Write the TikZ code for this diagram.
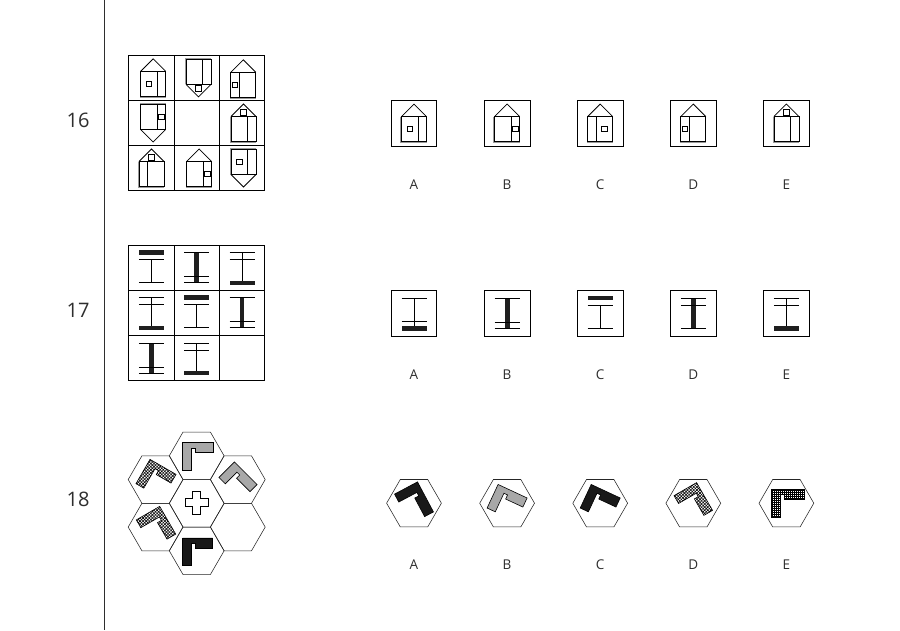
\documentclass[tikz,border=0pt]{standalone}
\usepackage{fontspec}
\setmainfont{Open Sans}
\usetikzlibrary{patterns.meta}
\definecolor{txt}{HTML}{2E2E2E}
\definecolor{lgray}{HTML}{A8A8A8}
\tikzset{
 gridline/.style={line width=0.9pt, draw=black},
 hl/.style={line width=0.75pt, draw=black},
 hshadow/.style={line width=0.8pt, draw=black!40},
 ibar/.style={fill=black!88},
 il/.style={line width=0.75pt, draw=black},
 hexl/.style={line width=0.55pt, draw=black!85},
 lbl/.style={font=\fontsize{13.5}{15}\selectfont, text=txt, inner sep=0pt},
 num/.style={font=\fontsize{20}{24}\selectfont, text=txt, inner sep=0pt},
 ansbox/.style={line width=0.9pt, draw=black},
 grayL/.style={fill=lgray, draw=black, line width=0.6pt},
 blackL/.style={fill=black!90, draw=black, line width=0.6pt},
 hatchL/.style={draw=black, line width=0.6pt, preaction={fill=white},
   preaction={pattern={Lines[angle=45,distance=2.2pt,line width=0.6pt]}},
   preaction={pattern={Lines[angle=-45,distance=2.2pt,line width=0.6pt]}}},
 gridL/.style={draw=black, line width=0.6pt, preaction={fill=white},
   preaction={pattern={Lines[angle=0,distance=2pt,line width=0.55pt]}},
   preaction={pattern={Lines[angle=90,distance=2pt,line width=0.55pt]}}},
}
% house: cx cy flip divider wx wy
\newcommand\house[6]{%
\begin{scope}[shift={(#1,#2)},yscale=#3]
 \draw[hshadow] (-13.3,-6.3) -- (-13.3,19.5) -- (12.5,19.5);
 \draw[hl] (-12.5,-6.3) rectangle (12.5,18.7);
 \draw[hl] (-12.5,-6.3) -- (0,-18.8) -- (12.5,-6.3);
 \draw[hl] (#4,-6.3) -- (#4,18.7);
 \draw[hl] ({#5-2.75},{#6-2.75}) rectangle ({#5+2.75},{#6+2.75});
\end{scope}}
% I-beams
\newcommand\Itop[2]{\begin{scope}[shift={(#1,#2)}]
 \fill[ibar] (-12.5,-17.4) rectangle (12.5,-12.9);
 \draw[il] (-12.5,-8) -- (12.5,-8) (0,-8) -- (0,15) (-12.5,15) -- (12.5,15);
\end{scope}}
\newcommand\Ivert[2]{\begin{scope}[shift={(#1,#2)}]
 \fill[ibar] (-2.4,-15) rectangle (2.4,15);
 \draw[il] (-12.5,-15) -- (12.5,-15) (-12.5,9) -- (12.5,9) (-12.5,15) -- (12.5,15);
\end{scope}}
\newcommand\IvertD[2]{\begin{scope}[shift={(#1,#2)}]
 \fill[ibar] (-2.4,-15) rectangle (2.4,15);
 \draw[il] (-12.5,-15) -- (12.5,-15) (-12.5,-8) -- (12.5,-8) (-12.5,15) -- (12.5,15);
\end{scope}}
\newcommand\Ibot[2]{\begin{scope}[shift={(#1,#2)}]
 \fill[ibar] (-12.5,12.7) rectangle (12.5,17.2);
 \draw[il] (-12.5,-15) -- (12.5,-15) (-12.5,-8) -- (12.5,-8) (0,-15) -- (0,13);
\end{scope}}
\newcommand\IbotA[2]{\begin{scope}[shift={(#1,#2)}]
 \fill[ibar] (-12.5,12.5) rectangle (12.5,17.3);
 \draw[il] (-12.5,-15) -- (12.5,-15) (-12.5,8) -- (12.5,8) (0,-15) -- (0,13);
\end{scope}}
% hexagon
\newcommand\hexa[2]{\draw[hexl] (#1,#2) +(0:27.4) -- +(60:27.4) -- +(120:27.4) -- +(180:27.4) -- +(240:27.4) -- +(300:27.4) -- cycle;}
% L shape: cx cy angle style W H
\newcommand\Lsh[6]{%
\begin{scope}[shift={(#1,#2)},rotate=#3]
\draw[#4] ({-#5/2},{-#6/2}) -- ({#5/2},{-#6/2}) -- ({#5/2},{-#6/2+10}) -- ({-#5/2+13},{-#6/2+10}) -- ({-#5/2+13},{-#6/2+5.5}) -- ({-#5/2+9},{-#6/2+5.5}) -- ({-#5/2+9},{#6/2}) -- ({-#5/2},{#6/2}) -- cycle;
\end{scope}}
\begin{document}
\begin{tikzpicture}[x=1pt,y=-1pt]
\useasboundingbox[fill=white] (0,0) rectangle (900,630);
% left rule and numbers
\draw[line width=0.9pt, draw=txt] (104,0) -- (104,630);
\node[num] (n16) at (78,120) {16};
\node[num] (n17) at (78,310) {17};
\node[num] (n18) at (78,499.5) {18};

% ---------- 16 ----------
\draw[gridline] (128.3,55.3) rectangle (264.7,190.7)
  (174,55.3) -- (174,190.7) (219.5,55.3) -- (219.5,190.7)
  (128.3,100.5) -- (264.7,100.5) (128.3,145.5) -- (264.7,145.5);
\house{153.2}{77.6}{1}{4.2}{-4.2}{6.2}
\house{198.5}{78}{-1}{4.2}{0}{-10.3}
\house{243.3}{78.6}{1}{-4.2}{-8.35}{6.2}
\house{153.2}{123.2}{-1}{4.2}{8.35}{6.2}
\house{243.5}{122.8}{1}{4.2}{0}{-10.3}
\house{151.5}{167.8}{1}{-4.2}{0}{-10.3}
\house{199.2}{167.8}{1}{4.2}{8.35}{6.2}
\house{243.5}{168.2}{-1}{4.2}{-4.2}{6.2}
\foreach \cx in {414,507.1,600.2,693.3,786.4}{
  \draw[ansbox] (\cx-22.9,100.3) rectangle (\cx+22.9,146.3);}
\house{414}{122.85}{1}{4.2}{-4.2}{6.2}
\house{507.1}{122.85}{1}{4.2}{8.35}{6.2}
\house{600.2}{122.85}{1}{-4.2}{4.2}{6.2}
\house{693.3}{122.85}{1}{-4.2}{-8.35}{6.2}
\house{786.4}{122.85}{1}{4.2}{0}{-10.3}
\node[lbl] (a16) at (414,184.5) {A};
\node[lbl] (b16) at (507.1,184.5) {B};
\node[lbl] (c16) at (600.2,184.5) {C};
\node[lbl] (d16) at (693.3,184.5) {D};
\node[lbl] (e16) at (786.4,184.5) {E};

% ---------- 17 ----------
\draw[gridline] (128.3,245.3) rectangle (264.7,380.7)
  (174,245.3) -- (174,380.7) (219.5,245.3) -- (219.5,380.7)
  (128.3,290.3) -- (264.7,290.3) (128.3,335.3) -- (264.7,335.3);
\Itop{151.3}{267.8}
\Ivert{196.8}{267.8}
\Ibot{242}{267.8}
\Ibot{151.3}{312.8}
\Itop{196.8}{312.8}
\Ivert{242}{312.8}
\Ivert{151.3}{358}
\Ibot{196.8}{358}
\foreach \cx in {414,507.1,600.2,693.3,786.4}{
  \draw[ansbox] (\cx-22.9,290.3) rectangle (\cx+22.9,336.3);}
\IbotA{414}{313.3}
\Ivert{507.1}{313.3}
\Itop{600.2}{313.3}
\IvertD{693.3}{313.3}
\Ibot{786.4}{313.3}
\node[lbl] (a17) at (414,374.5) {A};
\node[lbl] (b17) at (507.1,374.5) {B};
\node[lbl] (c17) at (600.2,374.5) {C};
\node[lbl] (d17) at (693.3,374.5) {D};
\node[lbl] (e17) at (786.4,374.5) {E};

% ---------- 18 ----------
\hexa{196.7}{455.8}
\hexa{196.7}{503.3}
\hexa{196.7}{550.8}
\hexa{155.6}{479.55}
\hexa{155.6}{527.05}
\hexa{237.8}{479.55}
\hexa{237.8}{527.05}
\Lsh{197.8}{456.5}{0}{grayL}{31}{27.6}
\Lsh{197.5}{551.3}{0}{blackL}{30}{27}
\Lsh{156}{479}{-30}{hatchL}{30}{28}
\Lsh{238}{481}{-45}{grayL}{32}{22}
\Lsh{156}{527}{-60}{hatchL}{32}{27}
\draw[line width=0.6pt, fill=white] (196.7,502.5) +(-4,-11.5) -- +(4,-11.5) -- +(4,-4) -- +(11.5,-4) -- +(11.5,4) -- +(4,4) -- +(4,11.5) -- +(-4,11.5) -- +(-4,4) -- +(-11.5,4) -- +(-11.5,-4) -- +(-4,-4) -- cycle;
\foreach \cx in {414,507.1,600.2,693.3,786.4}{\hexa{\cx}{503.2}}
\Lsh{414}{503}{-62}{blackL}{34}{26}
\Lsh{507.1}{503}{-25}{grayL}{32}{26}
\Lsh{600.2}{503}{-25}{blackL}{32}{26}
\Lsh{693.3}{503}{-60}{hatchL}{32}{26}
\Lsh{788}{503}{0}{gridL}{32.6}{27.7}
\node[lbl] (a18) at (414,564.5) {A};
\node[lbl] (b18) at (507.1,564.5) {B};
\node[lbl] (c18) at (600.2,564.5) {C};
\node[lbl] (d18) at (693.3,564.5) {D};
\node[lbl] (e18) at (786.4,564.5) {E};
\end{tikzpicture}
\end{document}
